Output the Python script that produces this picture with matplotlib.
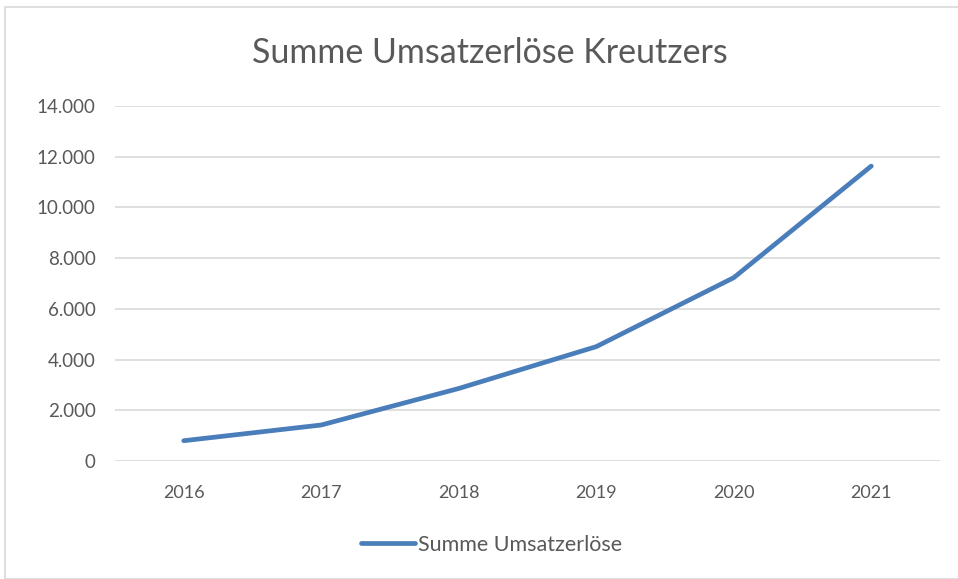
import matplotlib
matplotlib.use("Agg")
import matplotlib.pyplot as plt
from matplotlib.ticker import FuncFormatter
from matplotlib.patches import Rectangle

years = ["2016", "2017", "2018", "2019", "2020", "2021"]
umsatz = [800, 1420, 2860, 4510, 7230, 11630]
title = "Summe Umsatzerlöse Kreutzers"
series_name = "Summe Umsatzerlöse"
yticks = [0, 2000, 4000, 6000, 8000, 10000, 12000, 14000]

plt.rcParams['font.family'] = ['Lato', 'DejaVu Sans']
txt = "#595959"
blue = "#4a7ebb"

fig = plt.figure(figsize=(9.58, 5.79), dpi=100)
fig.patches.append(Rectangle((5/958, 0.0), 1.0, 1 - 7/579, transform=fig.transFigure,
                             fill=False, edgecolor="#d9d9d9", linewidth=1.2))
ax = fig.add_axes([115/958, 1 - 461/579, 825/958, 355/579])
x = list(range(len(years)))
ax.plot(x, umsatz, color=blue, linewidth=3.4, solid_capstyle='round', solid_joinstyle='round',
        label=series_name)
ax.set_xlim(-0.5, len(years) - 0.5)
ax.set_ylim(0, 14000)
ax.set_yticks(yticks)
ax.yaxis.set_major_formatter(FuncFormatter(lambda v, p: f"{int(v):,}".replace(",", ".")))
ax.set_xticks(x)
ax.set_xticklabels(years)
ax.grid(axis='y', color="#d9d9d9", linewidth=1.2)
ax.set_axisbelow(True)
for s in ax.spines.values():
    s.set_visible(False)
ax.tick_params(length=0, colors=txt, labelsize=13)
ax.tick_params(axis='y', labelsize=13.5, pad=14)
ax.tick_params(axis='x', pad=17)
fig.text(490/958, 1 - 53/579, title, ha='center', va='center', fontsize=24.5, color=txt)
leg = fig.legend(loc='center', bbox_to_anchor=(492/958, 1 - 545/579), frameon=False,
                 fontsize=15.5, handlelength=2.5, handletextpad=0.15)
for t in leg.get_texts():
    t.set_color(txt)
fig.savefig("out.png", dpi=100)
